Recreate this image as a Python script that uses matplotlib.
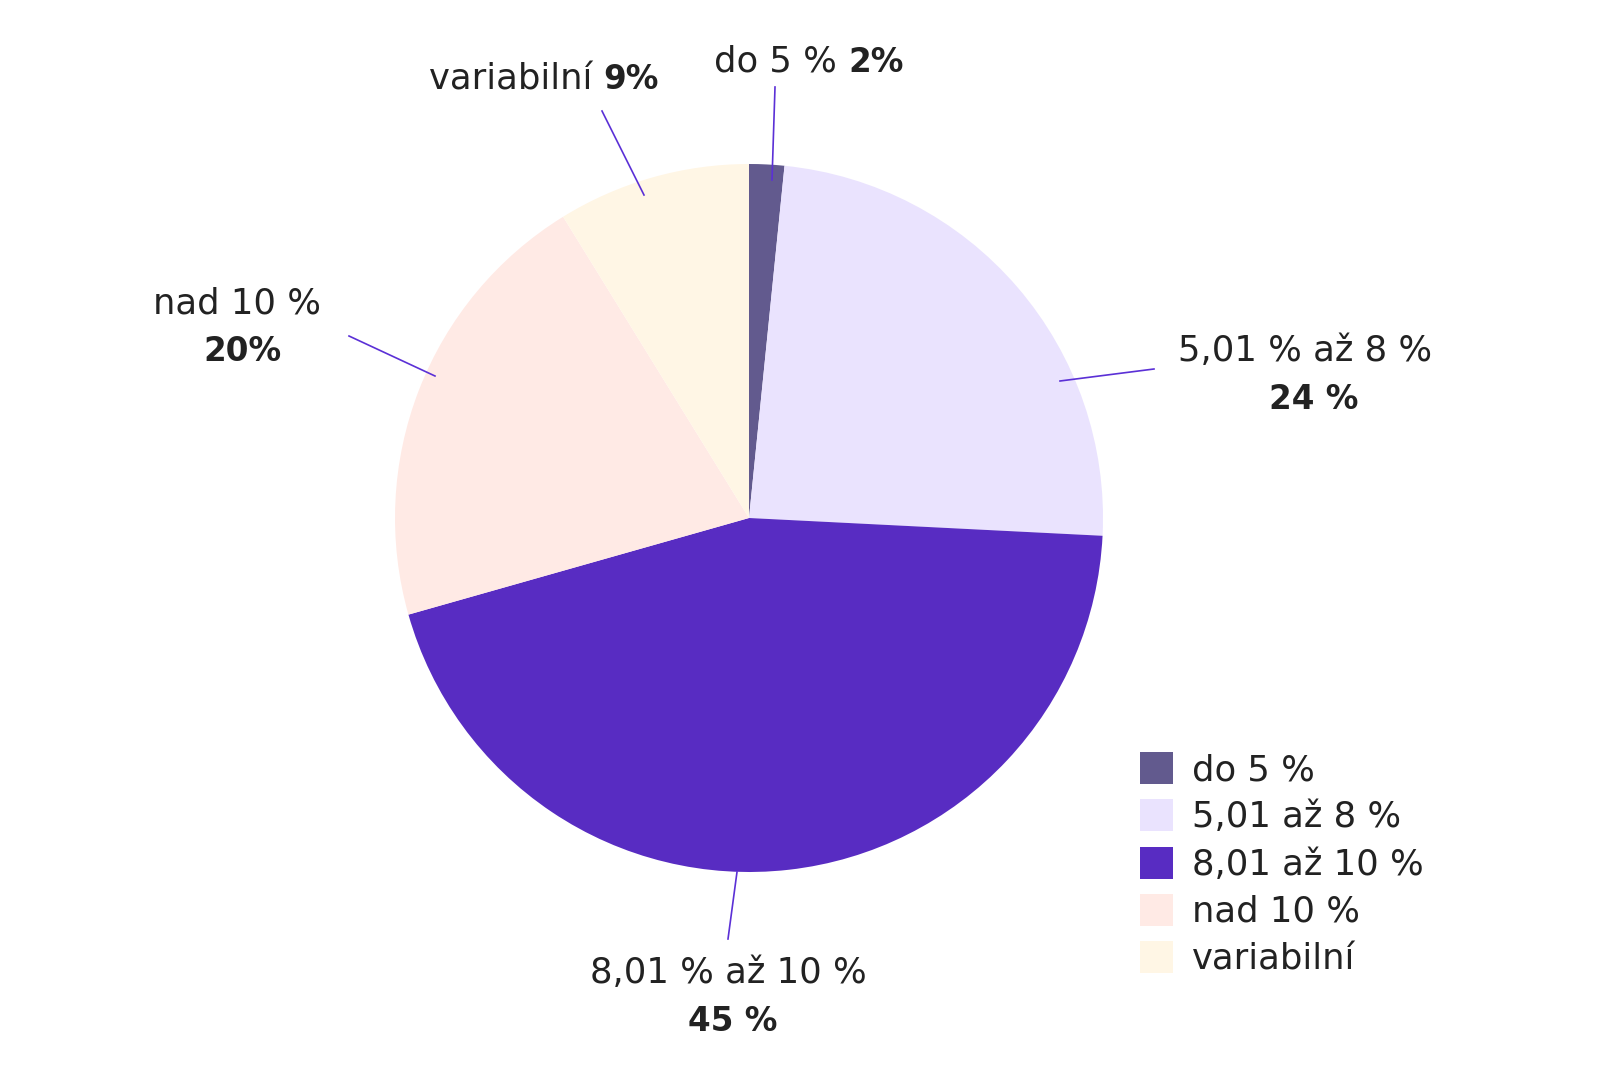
import matplotlib
matplotlib.use("Agg")
import matplotlib.pyplot as plt

categories = ["do 5 %", "5,01 až 8 %", "8,01 až 10 %", "nad 10 %", "variabilní"]
values = [1.6, 24.2, 44.8, 20.6, 8.8]
label_names = ["do 5 %", "5,01 % až 8 %", "8,01 % až 10 %", "nad 10 %", "variabilní"]
label_values = ["2%", "24 %", "45 %", "20%", "9%"]
colors = ["#625A8E", "#EAE3FE", "#582CC2", "#FFEAE5", "#FFF6E5"]
line_color = "#5B30D6"
text_color = "#222222"

plt.rcParams['font.family'] = ['DejaVu Sans']
FS = 25.5
FSB = 23.5

W, H = 1609, 1080
fig = plt.figure(figsize=(W / 100, H / 100), dpi=100)
ax = fig.add_axes([0, 0, 1, 1])

def Y(y):
    return H - y

cx, cy, R = 749, 518, 354
wedges, _ = ax.pie(values, colors=colors, startangle=90, counterclock=False,
                   center=(cx, Y(cy)), radius=R, frame=True)
ax.set_xlim(0, W)
ax.set_ylim(0, H)
ax.set_aspect('equal')
ax.axis('off')

# leader lines (pixel positions, top-left origin)
lines = [
    ((775, 87), (772, 180)),
    ((1154, 369), (1060, 381)),
    ((737, 872), (728, 939)),
    ((349, 336), (435, 376)),
    ((602, 111), (644, 195)),
]
for (x1, y1), (x2, y2) in lines:
    ax.plot([x1, x2], [Y(y1), Y(y2)], color=line_color, lw=1.2)

# single-line labels: name + bold value
def inline_label(x, y, name, val):
    t = ax.text(x, Y(y), name + " ", fontsize=FS, color=text_color,
                ha='left', va='baseline')
    ax.annotate(val, xy=(1, 0), xycoords=t, fontsize=FSB, fontweight='bold',
                color=text_color, ha='left', va='bottom')

inline_label(714, 72, label_names[0], label_values[0])
inline_label(429, 89, label_names[4], label_values[4])

# two-line labels
def two_line(x, y, name, val, dx):
    ax.text(x, Y(y), name, fontsize=FS, color=text_color, ha='center', va='baseline')
    ax.text(x + dx, Y(y + 48), val, fontsize=FSB, fontweight='bold', color=text_color,
            ha='center', va='baseline')

two_line(1305, 361, label_names[1], label_values[1], 9)
two_line(728, 983, label_names[2], label_values[2], 5)
two_line(237, 313, label_names[3], label_values[3], 5)

leg = ax.legend(wedges, categories, loc='upper left',
                bbox_to_anchor=(1140 / W, 1 - 752 / H), bbox_transform=fig.transFigure,
                frameon=False, fontsize=FS, handlelength=0.92, handleheight=1.01,
                handletextpad=0.56, labelspacing=0.345, borderpad=0, borderaxespad=0)
for t in leg.get_texts():
    t.set_color(text_color)

fig.savefig("out.png", dpi=100, facecolor='white')
